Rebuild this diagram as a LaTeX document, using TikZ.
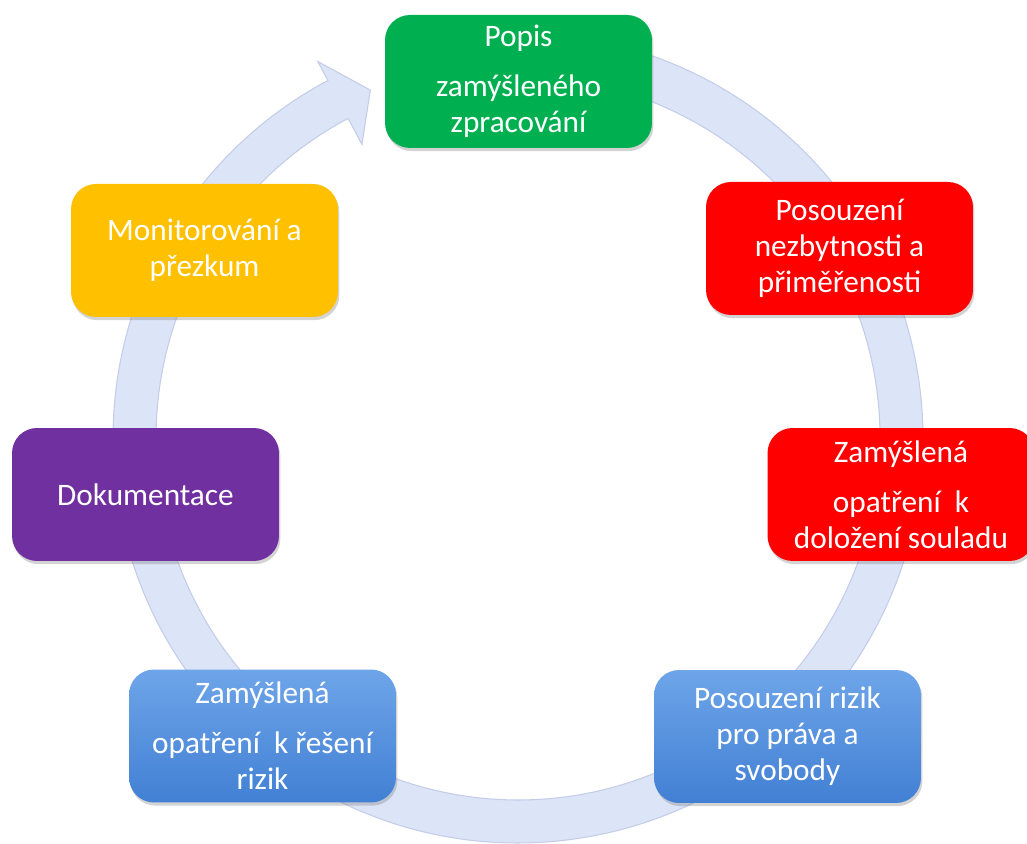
\documentclass[tikz,border=0pt]{standalone}
\usepackage{fontspec}
\setmainfont{Carlito}
\usetikzlibrary{calc, shadows}

\definecolor{ringfill}{RGB}{220,228,248}
\definecolor{ringedge}{RGB}{196,205,232}
\definecolor{stagegreen}{RGB}{0,176,80}
\definecolor{stagered}{RGB}{255,0,0}
\definecolor{stageorange}{RGB}{255,192,0}
\definecolor{stagepurple}{RGB}{112,48,160}
\definecolor{bluetop}{RGB}{110,165,233}
\definecolor{bluebot}{RGB}{66,128,212}

\begin{document}
\begin{tikzpicture}[x=0.02cm, y=0.02cm,
    stage/.style={rounded corners=0.5cm, minimum width=5.34cm, minimum height=2.66cm,
        inner sep=0pt, align=center, text=white,
        font=\fontsize{17.8pt}{20.4pt}\selectfont,
        drop shadow={shadow xshift=0.8pt, shadow yshift=-1.8pt, opacity=0.35}},
    bluestage/.style={stage, top color=bluetop, bottom color=bluebot}]
    \useasboundingbox (0,0) rectangle (1027,844);
    \coordinate (c) at (518,406);

    % Ring with arrow head
    \filldraw[ringfill, draw=ringedge, line width=0.6pt]
        ($(c)+(100:8.1cm)$) arc[start angle=100, end angle=-242, radius=8.1cm]
        -- ($(c)+(118:8.53cm)$) -- ($(c)+(113:7.56cm)$) -- ($(c)+(118:6.65cm)$)
        -- ($(c)+(118:7.24cm)$) arc[start angle=-242, end angle=100, radius=7.24cm]
        -- cycle;

    % Stages
    \node[stage, fill=stagegreen] (popis) at (518.5,762.5) {Popis\\[8pt]zamýšleného\\zpracování};
    \node[stage, fill=stagered] (nezbytnost) at (839.5,595.5) {Posouzení\\nezbytnosti a\\přiměřenosti};
    \node[stage, fill=stagered] (soulad) at (901,349.5) {Zamýšlená\\[8pt]opatření~ k\\doložení souladu};
    \node[bluestage] (rizika) at (787.5,107.5) {Posouzení rizik\\pro práva a\\svobody};
    \node[bluestage] (reseni) at (262.5,108) {Zamýšlená\\[8pt]opatření~ k řešení\\rizik};
    \node[stage, fill=stagepurple] (dokumentace) at (145.5,349.5) {Dokumentace};
    \node[stage, fill=stageorange] (monitorovani) at (204.5,593.5) {Monitorování a\\přezkum};
\end{tikzpicture}
\end{document}
